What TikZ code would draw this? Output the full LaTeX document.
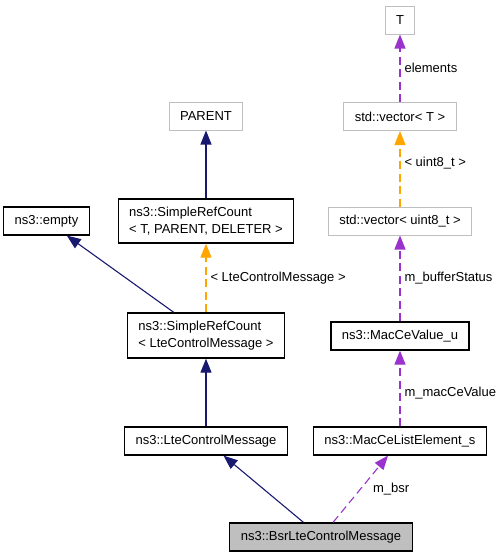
\documentclass[tikz,border=0pt]{standalone}
\usepackage{fontspec}
\setmainfont{Liberation Sans}
\usetikzlibrary{positioning,arrows.meta}
\definecolor{inhblue}{HTML}{191970}
\definecolor{tmplorange}{HTML}{FFA500}
\definecolor{usepurple}{HTML}{9A32CD}
\definecolor{boxgray}{HTML}{BFBFBF}
\begin{document}
\begin{tikzpicture}[
  x=1pt, y=-1pt,
  font=\fontsize{13}{17}\selectfont,
  cls/.style={rectangle, draw=black, line width=1.2pt, minimum height=28pt, inner xsep=11pt, inner ysep=8pt, align=left},
  ext/.style={cls, draw=boxgray, line width=1pt},
  inh/.style={-{Triangle[length=14pt,width=11pt]}, draw=inhblue, line width=1.1pt},
  tmpl/.style={-{Triangle[length=14pt,width=11pt]}, draw=tmplorange, line width=1.1pt, dash pattern=on 8pt off 4.5pt},
  usage/.style={-{Triangle[length=14pt,width=11pt]}, draw=usepurple, line width=1.1pt, dash pattern=on 8pt off 4.5pt},
  lbl/.style={inner sep=4pt}
]
\useasboundingbox (0,0) rectangle (503,557);

\node[cls, fill=boxgray] (bsr) at (321,537) {ns3::BsrLteControlMessage};
\node[cls] (lte) at (206,441) {ns3::LteControlMessage};
\node[cls, above of=lte, node distance=105.5pt] (srclte) {ns3::SimpleRefCount\\< LteControlMessage >};
\node[cls, above of=srclte, node distance=114.5pt] (srct) {ns3::SimpleRefCount\\< T, PARENT, DELETER >};
\node[ext, above of=srct, node distance=105pt] (parent) {PARENT};
\node[cls, left of=srct, node distance=159.5pt] (empty) {ns3::empty};
\node[cls, right of=lte, node distance=194pt] (macl) {ns3::MacCeListElement\_s};
\node[cls, above of=macl, node distance=105pt] (macv) {ns3::MacCeValue\_u};
\node[ext, above of=macv, node distance=115pt] (vecu) {std::vector< uint8\_t >};
\node[ext, above of=vecu, node distance=104.5pt] (vect) {std::vector< T >};
\node[ext, above of=vect, node distance=96.5pt] (t) {T};

\draw[inh] (srct) -- (parent);
\draw[inh] (srclte) -- (empty);
\draw[tmpl] (srclte) -- node[lbl, right] {< LteControlMessage >} (srct);
\draw[inh] (lte) -- (srclte);
\draw[inh] (bsr) -- (lte);
\draw[usage] (bsr) -- node[lbl, right=8pt] {m\_bsr} (macl);
\draw[usage] (macl) -- node[lbl, right, pos=0.44] {m\_macCeValue} (macv);
\draw[usage] (macv) -- node[lbl, right] {m\_bufferStatus} (vecu);
\draw[tmpl] (vecu) -- node[lbl, right, pos=0.57] {< uint8\_t >} (vect);
\draw[usage] (vect) -- node[lbl, right] {elements} (t);
\end{tikzpicture}
\end{document}
